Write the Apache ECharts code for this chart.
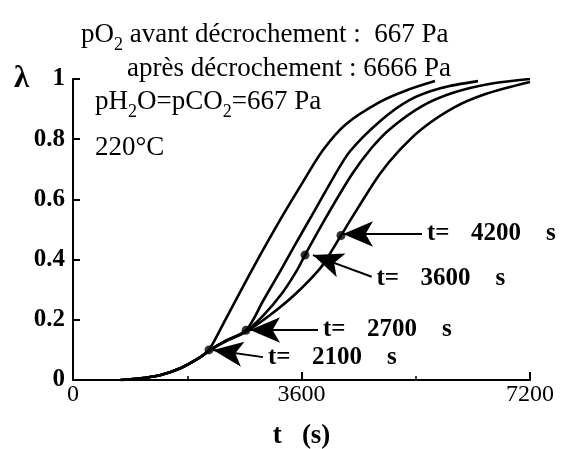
<!DOCTYPE html>
<html><head><meta charset="utf-8">
<script src="https://cdn.jsdelivr.net/npm/echarts@6/dist/echarts.min.js"></script>
<style>html,body{margin:0;padding:0;background:#fff}#c{width:564px;height:449px}</style>
</head><body><div id="c"></div>
<script>
// ---- data ----
const xTicks = [0, 3600, 7200];
const yTicks = [0, 0.2, 0.4, 0.6, 0.8, 1];

// curve switched at t = 2100 s
const tA = [750, 1000, 1370, 1700, 2000, 2143, 2400, 2836, 3300, 3600, 3939, 4300, 4837, 5250, 5703];
const lA = [0, 0.004, 0.016, 0.04, 0.075, 0.1, 0.2, 0.372, 0.545, 0.65, 0.764, 0.85, 0.924, 0.962, 0.993];
// curve switched at t = 2700 s
const tB = [750, 1000, 1370, 1700, 2000, 2143, 2400, 2726, 3000, 3261, 3500, 3800, 4096, 4364, 4837, 5300, 5800, 6381];
const lB = [0, 0.004, 0.016, 0.04, 0.075, 0.098, 0.13, 0.165, 0.265, 0.36, 0.45, 0.56, 0.67, 0.76, 0.86, 0.93, 0.97, 0.993];
// curve switched at t = 3600 s
const tC = [750, 1000, 1370, 1700, 2000, 2143, 2400, 2726, 3000, 3300, 3530, 3655, 4000, 4400, 4700, 5000, 5500, 6000, 6600, 7200];
const lC = [0, 0.004, 0.016, 0.04, 0.075, 0.097, 0.129, 0.163, 0.215, 0.29, 0.365, 0.415, 0.545, 0.685, 0.77, 0.835, 0.91, 0.955, 0.985, 1.0];
// curve switched at t = 4200 s
const tD = [750, 1000, 1370, 1700, 2000, 2143, 2400, 2726, 3100, 3500, 3891, 4049, 4222, 4500, 4837, 5152, 5500, 6000, 6500, 7200];
const lD = [0, 0.004, 0.016, 0.04, 0.075, 0.097, 0.128, 0.16, 0.215, 0.285, 0.37, 0.42, 0.48, 0.575, 0.685, 0.765, 0.835, 0.905, 0.95, 0.99];

// switch points (dots) and their labels
const markerT = [2143, 2726, 3655, 4222];
const markerL = [0.1, 0.165, 0.415, 0.48];
const markerLabels = ['2100', '2700', '3600', '4200'];
// arrow tails (label side) and tips, in data units
const arrowTailT = [2993, 3860, 4706, 5498];
const arrowTailL = [0.076, 0.166, 0.343, 0.485];
const arrowTipT = [2206, 2789, 3781, 4254];
const arrowTipL = [0.0997, 0.166, 0.415, 0.485];

// ---- chart ----
const FF = "'Liberation Serif', 'Times New Roman', serif";
const pairs = (T, L) => T.map((t, i) => [t, L[i]]);
const curve = (name, T, L) => ({
  name, type: 'line', data: pairs(T, L), symbol: 'none', showSymbol: false,
  smooth: 0.3, silent: true, z: 3,
  lineStyle: { color: '#000', width: 2.6 }
});
const richTitle = {
  n: { color: '#000', fontFamily: FF, fontSize: 27, fontWeight: 'normal', lineHeight: 30, verticalAlign: 'top' },
  s: { color: '#000', fontFamily: FF, fontSize: 18, fontWeight: 'normal', lineHeight: 33, verticalAlign: 'bottom' }
};
const chart = echarts.init(document.getElementById('c'), null, { renderer: 'canvas' });
chart.setOption({
  animation: false,
  backgroundColor: '#fff',
  title: [
    { text: '{n|pO}{s|2}{n| avant décrochement :  667 Pa}', left: 81, top: 21, padding: 0, textStyle: { fontWeight: 'normal', rich: richTitle } },
    { text: '{n|après décrochement : 6666 Pa}', left: 127, top: 55, padding: 0, textStyle: { fontWeight: 'normal', rich: richTitle } },
    { text: '{n|pH}{s|2}{n|O=pCO}{s|2}{n|=667 Pa}', left: 95, top: 88, padding: 0, textStyle: { fontWeight: 'normal', rich: richTitle } },
    { text: '{n|220°C}', left: 95, top: 134, padding: 0, textStyle: { fontWeight: 'normal', rich: richTitle } },
    { text: 'λ', left: 14, top: 63, padding: 0, textStyle: { color: '#000', fontFamily: FF, fontSize: 31, fontWeight: 'bold' } }
  ],
  grid: { left: 73, right: 34, top: 79, bottom: 69, containLabel: false, outerBoundsMode: 'none' },
  xAxis: {
    type: 'value', min: xTicks[0], max: xTicks[xTicks.length - 1], interval: xTicks[1] - xTicks[0],
    splitLine: { show: false },
    axisLine: { show: true, onZero: false, lineStyle: { color: '#000', width: 2 } },
    axisTick: { show: true, inside: true, length: 8, lineStyle: { color: '#000', width: 2 } },
    minorTick: { show: true, splitNumber: 2, length: 4, lineStyle: { color: '#000', width: 1.5 } },
    axisLabel: { color: '#000', fontFamily: FF, fontSize: 24, margin: 3, formatter: (v) => String(v) },
    name: 't   (s)', nameLocation: 'middle', nameGap: 43,
    nameTextStyle: { color: '#000', fontFamily: FF, fontSize: 27, fontWeight: 'bold' }
  },
  yAxis: {
    type: 'value', min: yTicks[0], max: yTicks[yTicks.length - 1], interval: yTicks[1] - yTicks[0],
    splitLine: { show: false },
    axisLine: { show: true, onZero: false, lineStyle: { color: '#000', width: 2 } },
    axisTick: { show: true, inside: true, length: 7, lineStyle: { color: '#000', width: 2 } },
    axisLabel: { color: '#000', fontFamily: FF, fontSize: 25, fontWeight: 'bold', margin: 8, formatter: (v) => String(v) }
  },
  series: [
    curve('2100', tA, lA),
    curve('2700', tB, lB),
    curve('3600', tC, lC),
    curve('4200', tD, lD),
    {
      name: 'switch', type: 'scatter', data: pairs(markerT, markerL), symbolSize: 9, z: 5, silent: true,
      itemStyle: { color: '#000' },
      markLine: {
        silent: true, symbol: ['none', 'arrow'], symbolSize: [19, 30],
        lineStyle: { color: '#000', width: 2, type: 'solid' },
        label: {
          show: true, position: 'start', distance: 5, color: '#000',
          fontFamily: FF, fontSize: 25, fontWeight: 'bold',
          formatter: (p) => '{a|t=}{b|' + markerLabels[p.dataIndex] + '}{c|s}',
          rich: {
            a: { width: 44, fontFamily: FF, fontSize: 25, fontWeight: 'bold', color: '#000' },
            b: { width: 75, fontFamily: FF, fontSize: 25, fontWeight: 'bold', color: '#000' },
            c: { fontFamily: FF, fontSize: 25, fontWeight: 'bold', color: '#000' }
          }
        },
        emphasis: { disabled: true },
        data: markerLabels.map((lab, i) => [
          { coord: [arrowTailT[i], arrowTailL[i]] },
          { coord: [arrowTipT[i], arrowTipL[i]] }
        ])
      }
    }
  ]
});
</script></body></html>
